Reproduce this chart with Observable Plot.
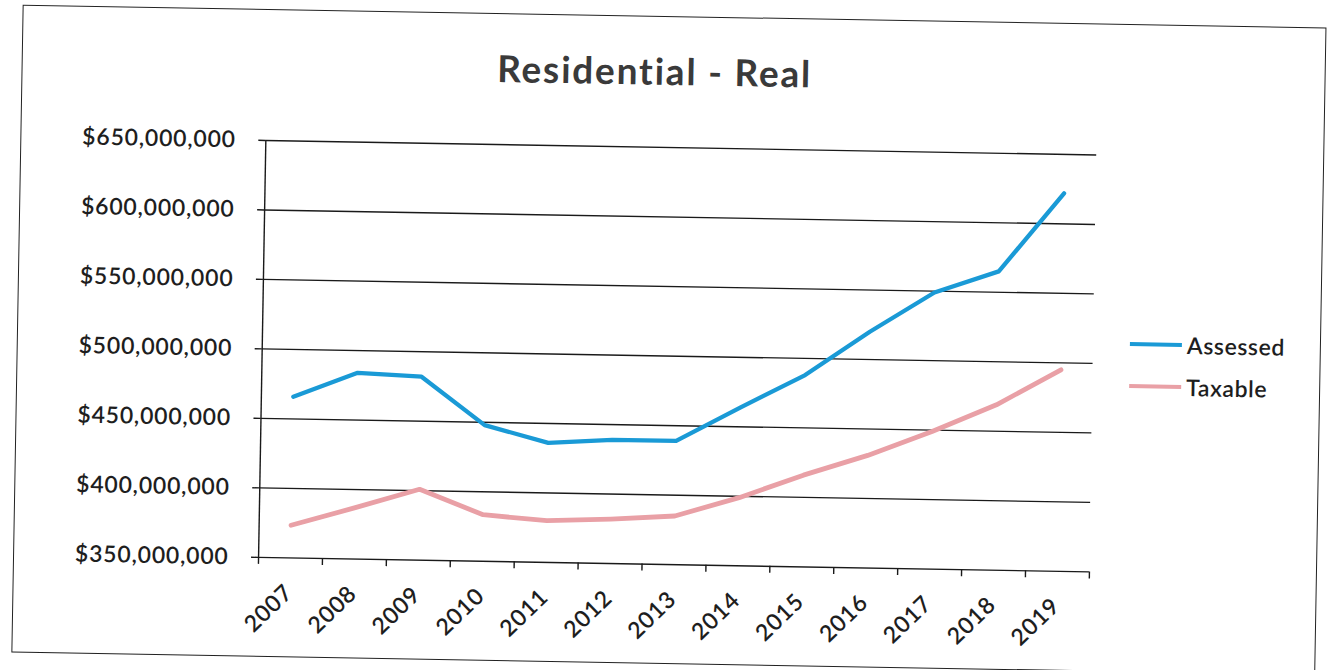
<!DOCTYPE html>
<html>
<head>
<meta charset="utf-8">
<script src="https://cdn.jsdelivr.net/npm/d3@7"></script>
<script src="https://cdn.jsdelivr.net/npm/@observablehq/plot@0.6"></script>
<style>
  html, body { margin: 0; padding: 0; background: #ffffff; }
  body { width: 1336px; height: 670px; overflow: hidden; }
  #page {
    position: absolute; left: 0; top: 0; width: 1336px; height: 670px;
    transform: rotate(1deg); transform-origin: 668px 335px;
    font-family: Lato, "Open Sans", sans-serif;
  }
  #frame {
    position: absolute; left: 17px; top: 16px; width: 1302px; height: 646px;
    border: 1.6px solid #222;
  }
  #title {
    position: absolute; left: 0; width: 1300px; top: 48px; text-align: center;
    font-size: 37px; font-weight: bold; letter-spacing: 1.8px; color: #3a3a3a;
  }
  #chart { position: absolute; left: 0; top: 100px; }
  #legend { position: absolute; left: 1130px; top: 315px; }
  .item { display: flex; align-items: center; height: 42px; }
  .swatch { width: 52px; height: 4px; margin-right: 5px; }
  .label { font-size: 23px; font-weight: 600; letter-spacing: 0.6px; color: #1e1e1e; }
  #chart text { letter-spacing: 0.8px; }
</style>
</head>
<body>
<div id="page">
  <div id="frame"></div>
  <div id="title">Residential - Real</div>
  <div id="chart"></div>
  <div id="legend"></div>
</div>
<script>
// Residential real property totals by year
const years = [2007, 2008, 2009, 2010, 2011, 2012, 2013, 2014, 2015, 2016, 2017, 2018, 2019];
const assessed = [466e6, 484e6, 482e6, 448e6, 436e6, 439e6, 439e6, 464e6, 488e6, 520e6, 549e6, 565e6, 622e6];
const taxable = [373.5e6, 387e6, 401e6, 383.5e6, 380e6, 382e6, 385e6, 399e6, 416e6, 431e6, 449e6, 469e6, 495e6];
const yTicks = [350e6, 400e6, 450e6, 500e6, 550e6, 600e6, 650e6];
const seriesNames = ["Assessed", "Taxable"];
const seriesColors = ["#1a9ad6", "#e9a0a6"];

const rows = years.flatMap((year, i) => [
  {year, value: assessed[i], series: seriesNames[0]},
  {year, value: taxable[i], series: seriesNames[1]}
]);

// category boundaries, where the x-axis tick marks sit
const bounds = years.map(y => y - 0.5).concat([years[years.length - 1] + 0.5]);
const xDomain = [bounds[0], bounds[bounds.length - 1]];
const money = d3.format(",");

const chart = Plot.plot({
  width: 1100,
  height: 560,
  marginLeft: 262,
  marginRight: 7,
  marginTop: 47,
  marginBottom: 96,
  style: {fontFamily: "Lato, 'Open Sans', sans-serif", fontSize: "23px", fontWeight: 600, color: "#1e1e1e", background: "transparent"},
  x: {domain: xDomain, axis: null},
  y: {domain: [yTicks[0], yTicks[yTicks.length - 1]], axis: null},
  color: {domain: seriesNames, range: seriesColors},
  marks: [
    Plot.ruleY(yTicks, {stroke: "#1a1a1a", strokeWidth: 1.4}),
    Plot.axisY({ticks: yTicks, label: null, tickSize: 7, tickPadding: 23, tickFormat: d => "$" + money(d), stroke: "#1a1a1a", strokeWidth: 1.4, fontSize: 23, fill: "#1e1e1e"}),
    Plot.ruleX([xDomain[0]], {stroke: "#1a1a1a", strokeWidth: 1.4}),
    Plot.axisX({ticks: bounds, label: null, tickSize: 7, tickFormat: () => "", stroke: "#1a1a1a", strokeWidth: 1.4}),
    Plot.text(years, {x: d => d, text: d => String(d), frameAnchor: "bottom", dy: 31, dx: -1, rotate: -45, textAnchor: "end", lineAnchor: "middle", fontSize: 23, fill: "#1e1e1e"}),
    Plot.line(rows, {x: "year", y: "value", z: "series", stroke: "series", strokeWidth: d => d.series === "Taxable" ? 4.8 : 4.3, strokeLinejoin: "round", strokeLinecap: "round"})
  ]
});
document.getElementById("chart").appendChild(chart);

const legend = document.getElementById("legend");
seriesNames.forEach((name, i) => {
  const item = document.createElement("div");
  item.className = "item";
  const sw = document.createElement("div");
  sw.className = "swatch";
  sw.style.background = seriesColors[i];
  const lb = document.createElement("span");
  lb.className = "label";
  lb.textContent = name;
  item.appendChild(sw);
  item.appendChild(lb);
  legend.appendChild(item);
});
</script>
</body>
</html>
